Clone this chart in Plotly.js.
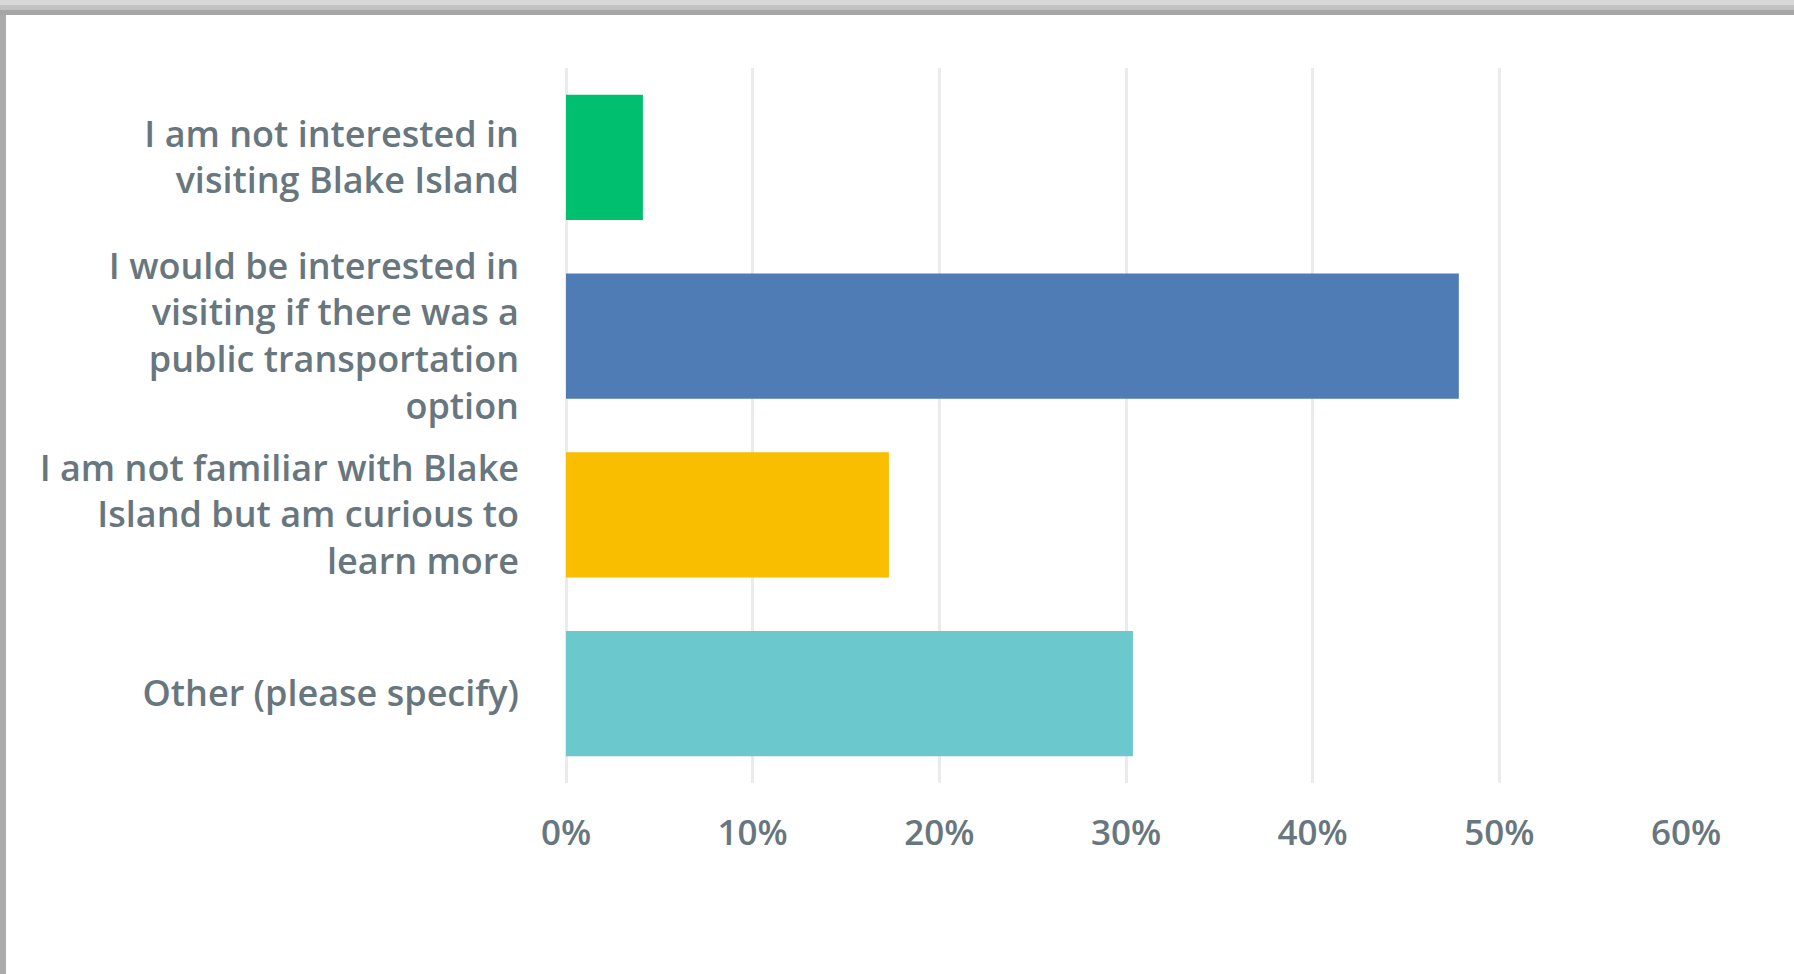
<!DOCTYPE html>
<html>
<head>
<meta charset="utf-8">
<script src="https://cdn.plot.ly/plotly-3.0.1.min.js"></script>
<style>
  html, body { margin: 0; padding: 0; background: #ffffff; overflow: hidden; }
  #wrap { position: relative; width: 1794px; height: 974px; }
  #chart { position: absolute; left: 0; top: 0; width: 1794px; height: 974px; }
  .band { position: absolute; pointer-events: none; }
</style>
</head>
<body>
<div id="wrap">
  <div id="chart"></div>
  <div class="band" style="left:0;top:0;width:1794px;height:5px;background:#d8d8d8;"></div>
  <div class="band" style="left:0;top:5px;width:1794px;height:5px;background:#c2c2c2;"></div>
  <div class="band" style="left:0;top:10px;width:1794px;height:5px;background:#a6a6a6;"></div>
  <div class="band" style="left:0;top:15px;width:6px;height:959px;background:#ababab;"></div>
</div>
<script>
const categories = [
  "I am not interested in<br>visiting Blake Island",
  "I would be interested in<br>visiting if there was a<br>public transportation<br>option",
  "I am not familiar with Blake<br>Island but am curious to<br>learn more",
  "Other (please specify)"
];
const values = [4.12, 47.83, 17.30, 30.37];
const barColors = ["#00bf6f", "#507cb6", "#f9be00", "#6bc8cd"];
const tickValues = [0, 10, 20, 30, 40, 50, 60];
const tickLabels = ["0%", "10%", "20%", "30%", "40%", "50%", "60%"];

const textColor = "#68767e";
const fontFamily = "'Open Sans', Lato, sans-serif";

const data = [{
  type: "bar",
  orientation: "h",
  y: categories,
  x: values,
  marker: { color: barColors, line: { width: 0 } },
  hoverinfo: "none"
}];

const layout = {
  width: 1794,
  height: 974,
  margin: { l: 566, r: 108, t: 68, b: 191, pad: 0 },
  paper_bgcolor: "#ffffff",
  plot_bgcolor: "#ffffff",
  showlegend: false,
  bargap: 0.3,
  font: { family: fontFamily, color: textColor, size: 37 },
  xaxis: {
    range: [0, 60],
    tickmode: "array",
    tickvals: tickValues,
    ticktext: tickLabels,
    showgrid: true,
    gridcolor: "#ebebeb",
    gridwidth: 3,
    zeroline: true,
    zerolinecolor: "#ebebeb",
    zerolinewidth: 3,
    showline: false,
    ticks: "",
    ticklabelstandoff: 26,
    tickfont: { family: fontFamily, color: textColor, size: 35, weight: 600 },
    fixedrange: true
  },
  yaxis: {
    type: "category",
    autorange: "reversed",
    showgrid: false,
    zeroline: false,
    showline: false,
    ticks: "",
    ticklabelstandoff: 46,
    tickfont: { family: fontFamily, color: textColor, size: 36, weight: 600 },
    fixedrange: true
  }
};

Plotly.newPlot("chart", data, layout, { staticPlot: true, displayModeBar: false });
</script>
</body>
</html>
